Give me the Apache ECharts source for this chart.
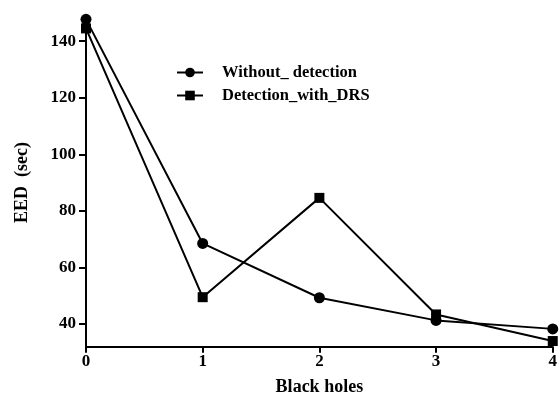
<!DOCTYPE html>
<html>
<head>
<meta charset="utf-8">
<script src="https://cdn.jsdelivr.net/npm/echarts@6/dist/echarts.min.js"></script>
<style>html,body{margin:0;padding:0;background:#fff}#c{width:560px;height:402px}</style>
</head>
<body>
<div id="c"></div>
<script>
var categories = ['0', '1', '2', '3', '4'];
var withoutDetection = [147.7, 68.5, 49.3, 41.3, 38.3];
var detectionWithDRS = [144.5, 49.5, 84.6, 43.4, 34.0];
var yTicks = [40, 60, 80, 100, 120, 140];

var font = 'Liberation Serif';
var chart = echarts.init(document.getElementById('c'));
chart.setOption({
  animation: false,
  backgroundColor: '#fff',
  grid: {left: 86, right: 7, top: 18.5, bottom: 55.3, containLabel: false},
  legend: {
    orient: 'vertical', left: 171, top: 59, itemWidth: 26, itemHeight: 12, itemGap: 6,
    textStyle: {fontFamily: font, fontSize: 16.5, fontWeight: 'bold', color: '#000', padding: [0, 0, 0, 14]},
    data: ['Without_ detection', 'Detection_with_DRS']
  },
  xAxis: {
    type: 'category', data: categories, boundaryGap: false,
    name: 'Black holes', nameLocation: 'middle', nameGap: 32,
    nameTextStyle: {fontFamily: font, fontSize: 18, fontWeight: 'bold', color: '#000'},
    axisLine: {lineStyle: {color: '#000', width: 2}},
    axisTick: {show: true, length: 6, lineStyle: {color: '#000', width: 2}},
    axisLabel: {fontFamily: font, fontSize: 17, fontWeight: 'bold', color: '#000', margin: 6},
    splitLine: {show: false}
  },
  yAxis: {
    type: 'value', min: 32, max: 148,
    name: 'EED  (sec)', nameLocation: 'middle', nameGap: 55,
    nameTextStyle: {fontFamily: font, fontSize: 18, fontWeight: 'bold', color: '#000'},
    axisLine: {show: true, lineStyle: {color: '#000', width: 2}},
    axisTick: {show: true, length: 7, customValues: yTicks, lineStyle: {color: '#000', width: 2}},
    axisLabel: {fontFamily: font, fontSize: 17, fontWeight: 'bold', color: '#000', margin: 10, customValues: yTicks},
    splitLine: {show: false}
  },
  series: [
    {
      name: 'Without_ detection', type: 'line', data: withoutDetection,
      symbol: 'circle', symbolSize: 11,
      lineStyle: {color: '#000', width: 2}, itemStyle: {color: '#000'}
    },
    {
      name: 'Detection_with_DRS', type: 'line', data: detectionWithDRS,
      symbol: 'rect', symbolSize: 10,
      lineStyle: {color: '#000', width: 2}, itemStyle: {color: '#000'}
    }
  ]
});
</script>
</body>
</html>
